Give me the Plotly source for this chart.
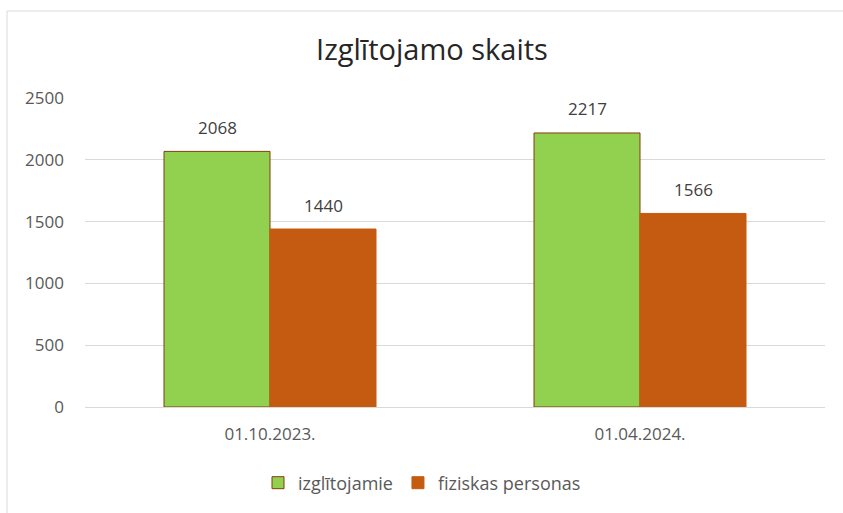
import plotly.graph_objects as go

categories = ["01.10.2023.", "01.04.2024."]
izglitojamie = [2068, 2217]
fiziskas_personas = [1440, 1566]
series_names = ["izglītojamie", "fiziskas personas"]
title_text = "Izglītojamo skaits"

W, H = 843, 513
L, R, T, B = 85, 18, 98, 106
pw, ph = W - L - R, H - T - B

font_family = "Open Sans, Noto Sans, DejaVu Sans, sans-serif"

fig = go.Figure()
fig.add_trace(go.Bar(
    name=series_names[0], x=categories, y=izglitojamie,
    marker=dict(color="#92D050", line=dict(color="#843C0C", width=1)),
))
fig.add_trace(go.Bar(
    name=series_names[1], x=categories, y=fiziskas_personas,
    marker=dict(color="#C55A11", line=dict(color="#C55A11", width=1)),
))

# data labels above bars
annotations = []
for vals, shift in ((izglitojamie, -53), (fiziskas_personas, 53)):
    for c, v in zip(categories, vals):
        annotations.append(dict(
            x=c, y=v, xref="x", yref="y", text=str(v), showarrow=False,
            xshift=shift, yshift=24, yanchor="middle",
            font=dict(size=17, color="#404040", family=font_family),
        ))

def px_x(p):
    return (p - L) / pw

def px_y(p):
    return (H - B - p) / ph

fig.update_layout(
    width=W, height=H,
    margin=dict(l=L, r=R, t=T, b=B, autoexpand=False),
    paper_bgcolor="white", plot_bgcolor="white",
    barmode="group", bargap=0.427, bargroupgap=0,
    font=dict(family=font_family, color="#595959", size=16),
    title=dict(text=title_text, x=432 / W, xanchor="center", y=1 - 50 / H, yanchor="middle",
               font=dict(size=29, color="#262626", family=font_family)),
    xaxis=dict(showgrid=False, showline=False, ticks="", ticklabelstandoff=15,
               tickfont=dict(size=17, color="#595959")),
    yaxis=dict(range=[0, 2500], dtick=500, showgrid=True, gridcolor="#D9D9D9", gridwidth=1,
               zeroline=True, zerolinecolor="#D9D9D9", zerolinewidth=1,
               showline=False, ticks="", ticklabelstandoff=20,
               tickfont=dict(size=17, color="#595959")),
    legend=dict(orientation="h", x=px_x(422), xanchor="center", y=px_y(483), yanchor="middle",
                font=dict(size=18, color="#595959"), traceorder="normal"),
    annotations=annotations,
    shapes=[dict(type="rect", xref="paper", yref="paper",
                 x0=px_x(7), x1=px_x(848), y0=px_y(520), y1=px_y(11),
                 line=dict(color="#D9D9D9", width=1), fillcolor="rgba(0,0,0,0)", layer="below")],
)

fig.write_html("out.html", config={"displayModeBar": False},
               post_script="document.body.style.margin='0';")
